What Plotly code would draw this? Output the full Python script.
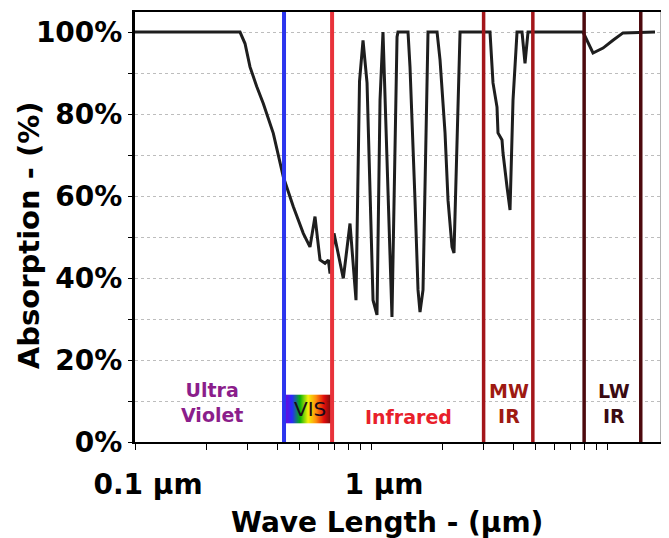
import numpy as np
import plotly.graph_objects as go

# ---- data ----
wavelength_um = [0.10, 0.2786, 0.2925, 0.3071, 0.3279, 0.3496, 0.3855, 0.4250, 0.4687, 0.5165,
                 0.5513, 0.5790, 0.6080, 0.6385, 0.6594, 0.6705, 0.6970, 0.7632, 0.8147, 0.8638,
                 0.894, 0.925, 0.962, 0.990, 1.020, 1.060, 1.092, 1.124, 1.146, 1.180,
                 1.227, 1.289, 1.301, 1.435, 1.463, 1.536, 1.582, 1.613, 1.661, 1.744,
                 1.905, 1.961, 2.059, 2.120, 2.204, 2.247, 2.269, 2.384, 3.193, 3.288,
                 3.419, 3.452, 3.590, 3.625, 3.770, 3.882, 3.997, 4.156, 4.364, 4.493,
                 4.627, 7.912, 8.723, 9.619, 10.60, 11.69, 15.97]
absorption_pct = [100, 100, 97.2, 91.5, 86.7, 82.6, 75.3, 64.7, 57.4, 50.9,
                  47.6, 55.0, 44.4, 43.6, 44.4, 41.1, 50.9, 39.9, 53.3, 34.6,
                  88, 98.0, 87.6, 59.0, 34.6, 31.0, 83.4, 100, 83.4, 62.2,
                  30.5, 98.8, 100, 100, 91.5, 59.0, 37.1, 31.7, 37.1, 100,
                  100, 93.2, 75.4, 59.0, 47.6, 46.1, 55.9, 100, 100, 87.6,
                  81.7, 75.4, 73.7, 70.5, 62.2, 56.6, 83.4, 100, 100, 92.4,
                  100, 100, 94.9, 96.1, 98.0, 99.8, 100]

band_edges_um = [0.428, 0.684, 3.0, 4.85, 8.0, 13.9]
band_edge_colors = ["#2b35ee", "#e8323a", "#a3161a", "#a3161a", "#4d0a0e", "#4d0a0e"]
band_edge_widths = [4, 4, 3.5, 3.5, 3.5, 3.5]

region_labels = ["Ultra<br>Violet", "VIS", "Infrared", "MW<br>IR", "LW<br>IR"]
region_label_x_um = [0.212, 0.551, 1.435, 3.846, 10.7]
region_label_y_pct = [9.75, 8.0, 6.0, 9.5, 9.5]
region_label_colors = ["#8b1e8b", "#1a0a18", "#e8202a", "#9e1a12", "#3a0a12"]

vis_box_pct = (4.6, 11.5)
rainbow_stops = ["#7a00d0", "#2424ff", "#00b000", "#f2f000", "#ff8a00", "#e00000", "#5a0000"]

ytick_vals = [0, 10, 20, 30, 40, 50, 60, 70, 80, 90, 100]
ytick_text = ["0%", "", "20%", "", "40%", "", "60%", "", "80%", "", "100%"]
xtick_vals = [0.1, 0.2, 0.3, 0.4, 0.5, 0.6, 0.7, 0.8, 0.9,
              1, 2, 3, 4, 5, 6, 7, 8, 9, 10]
xtick_text = ["0.1 µm"] + [""] * 8 + ["1 µm"] + [""] * 8 + ["10 µm"]

x_range_um = (0.1, 17.1)
y_range_pct = (0, 104.9)

FONT = "DejaVu Sans"

fig = go.Figure()

fig.add_trace(go.Scatter(
    x=wavelength_um, y=absorption_pct, mode="lines",
    line=dict(color="#1e1e1e", width=3), hoverinfo="skip"))

shapes = []

# rainbow VIS box (gradient made of thin slices)
def hex2rgb(h):
    h = h.lstrip("#")
    return np.array([int(h[i:i + 2], 16) for i in (0, 2, 4)], dtype=float)

stops_rgb = [hex2rgb(c) for c in rainbow_stops]
n_slices = 48
lo, hi = np.log10(band_edges_um[0]), np.log10(band_edges_um[1])
edges = np.logspace(lo, hi, n_slices + 1)
for i in range(n_slices):
    t = (i + 0.5) / n_slices * (len(stops_rgb) - 1)
    k = min(int(t), len(stops_rgb) - 2)
    f = t - k
    c = stops_rgb[k] * (1 - f) + stops_rgb[k + 1] * f
    col = "rgb(%d,%d,%d)" % tuple(c.round().astype(int))
    shapes.append(dict(type="rect", xref="x", yref="y",
                       x0=edges[i], x1=edges[i + 1] * 1.002,
                       y0=vis_box_pct[0], y1=vis_box_pct[1],
                       fillcolor=col, line=dict(width=0), layer="above"))

# band boundary lines
for xe, col, w in zip(band_edges_um, band_edge_colors, band_edge_widths):
    shapes.append(dict(type="line", xref="x", yref="paper",
                       x0=xe, x1=xe, y0=0, y1=1,
                       line=dict(color=col, width=w), layer="above"))

# right border of the frame (grey)
shapes.append(dict(type="line", xref="paper", yref="paper", x0=1, x1=1, y0=0, y1=1,
                   line=dict(color="#6a6a6a", width=3), layer="above"))

annotations = []
for txt, xu, yp, col in zip(region_labels, region_label_x_um, region_label_y_pct, region_label_colors):
    if txt == "VIS":
        fnt = dict(family=FONT, size=20, color=col)
    else:
        fnt = dict(family=FONT, size=19, color=col, weight="bold")
    annotations.append(dict(x=np.log10(xu), y=yp, xref="x", yref="y", text=txt,
                            showarrow=False, font=fnt, xanchor="center", yanchor="middle"))

# axis titles (placed as in the reference)
annotations.append(dict(x=0, y=0.481, xref="paper", yref="paper", xshift=-106,
                        text="Absorption - (%)", textangle=-90, showarrow=False,
                        xanchor="center", yanchor="middle",
                        font=dict(family=FONT, size=29, color="black", weight="bold")))
annotations.append(dict(x=0.5, y=0, xref="paper", yref="paper", xshift=-12, yshift=-80,
                        text="Wave Length - (µm)", showarrow=False,
                        xanchor="center", yanchor="middle",
                        font=dict(family=FONT, size=28, color="black", weight="bold")))

fig.update_layout(
    width=661, height=530,
    margin=dict(l=127, r=7, t=4, b=96),
    paper_bgcolor="white", plot_bgcolor="white",
    showlegend=False, shapes=shapes, annotations=annotations,
)

fig.update_xaxes(
    type="log", range=[np.log10(x_range_um[0]), np.log10(x_range_um[1])],
    tickmode="array", tickvals=xtick_vals, ticktext=xtick_text,
    ticks="outside", ticklen=6, tickwidth=1, tickcolor="black",
    showline=True, linecolor="black", linewidth=2, mirror=True,
    showgrid=False, zeroline=False, automargin=False,
    tickfont=dict(family=FONT, size=28, color="black", weight="bold"),
    ticklabelshift=13, ticklabelstandoff=10,
)
fig.update_yaxes(
    range=list(y_range_pct), tickmode="array", tickvals=ytick_vals, ticktext=ytick_text,
    ticks="outside", ticklen=4, tickwidth=1, tickcolor="black",
    showline=True, linecolor="black", linewidth=3,
    showgrid=True, gridcolor="#bdbdbd", griddash="dot", gridwidth=1,
    zeroline=False, automargin=False,
    tickfont=dict(family=FONT, size=28, color="black", weight="bold"),
)

fig.write_html("out.html")
